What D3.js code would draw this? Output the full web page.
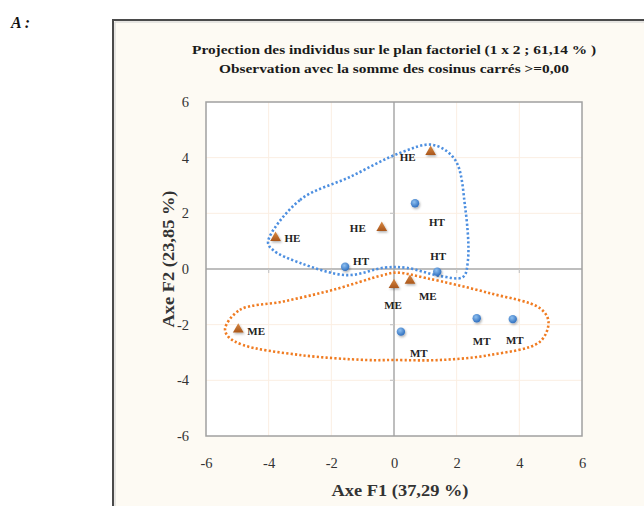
<!DOCTYPE html>
<html>
<head>
<meta charset="utf-8">
<script src="https://cdn.jsdelivr.net/npm/d3@7"></script>
<style>
  html, body { margin: 0; padding: 0; background: #ffffff; }
  svg { display: block; }
</style>
</head>
<body>
<svg id="chart" width="644" height="506"></svg>
<script>
// Individuals projected on the factorial plane F1 x F2
const triLabels = ["HE", "HE", "HE", "ME", "ME", "ME"];
const triF1 = [1.17, -0.39, -3.78, 0.00, 0.51, -4.97];
const triF2 = [4.21, 1.48, 1.12, -0.57, -0.42, -2.17];

const dotLabels = ["HT", "HT", "HT", "MT", "MT", "MT"];
const dotF1 = [0.67, -1.56, 1.38, 0.22, 2.64, 3.79];
const dotF2 = [2.36, 0.08, -0.10, -2.25, -1.77, -1.80];

// Group outlines (F1, F2) drawn as closed smooth curves
const groupHF1 = [-4.02, -3.0, -1.40, 0.19, 1.24, 1.95, 2.27, 2.36, 2.20, 1.47, 0.41, -0.30, -1.50, -3.00, -3.86];
const groupHF2 = [0.97, 2.48, 3.31, 4.17, 4.46, 3.92, 2.23, 0.32, -0.29, -0.25, 0.04, 0.05, -0.22, 0.22, 0.68];
const groupMF1 = [-5.39, -4.92, -3.54, -1.95, -0.35, 0.09, 1.04, 3.06, 4.66, 4.93, 4.66, 3.06, 1.47, 0.00, -0.87, -3.00, -4.82, -5.29];
const groupMF2 = [-2.13, -1.47, -1.17, -0.75, -0.22, -0.13, -0.33, -0.87, -1.41, -1.89, -2.61, -3.09, -3.27, -3.27, -3.27, -3.09, -2.73, -2.43];

const ticks = [-6, -4, -2, 0, 2, 4, 6];

const titleLines = [
  "Projection des individus sur le plan factoriel (1 x 2 ; 61,14 % )",
  "Observation avec la somme des cosinus carrés >=0,00"
];
const xTitle = "Axe F1 (37,29 %)";
const yTitle = "Axe F2 (23,85 %)";

// Label placement relative to each marker (pixels)
const triLabelOffset = [[-15, 9], [-16, 4], [9, 4], [-1, 24], [9, 19], [9, 6]];
const dotLabelOffset = [[14, 23], [8, -2], [1, -12], [9, 25], [5, 27], [2, 25]];

const svg = d3.select("#chart");
const W = 644, H = 506;
const plot = { left: 206, right: 582, top: 102, bottom: 436 };

const x = d3.scaleLinear().domain([-6, 6]).range([plot.left, plot.right]);
const y = d3.scaleLinear().domain([-6, 6]).range([plot.bottom, plot.top]);

const serif = "'Liberation Serif', 'Times New Roman', serif";

// Panel letter
svg.append("text").attr("x", 11).attr("y", 28)
  .attr("font-family", serif).attr("font-size", 16)
  .attr("font-weight", "bold").attr("font-style", "italic")
  .attr("fill", "#111").text("A :");

// Chart area background with frame on top and left
const defs = svg.append("defs");
const shadow = defs.append("filter").attr("id", "shadow")
  .attr("x", "-50%").attr("y", "-50%").attr("width", "200%").attr("height", "200%");
shadow.append("feDropShadow").attr("dx", 1).attr("dy", 1.5)
  .attr("stdDeviation", 1).attr("flood-color", "#000").attr("flood-opacity", 0.3);

const blueGrad = defs.append("radialGradient").attr("id", "blueGrad")
  .attr("cx", "40%").attr("cy", "35%").attr("r", "65%");
blueGrad.append("stop").attr("offset", "0%").attr("stop-color", "#8fc0f0");
blueGrad.append("stop").attr("offset", "100%").attr("stop-color", "#2f6fbf");

const triGrad = defs.append("linearGradient").attr("id", "triGrad")
  .attr("x1", 0).attr("y1", 0).attr("x2", 0).attr("y2", 1);
triGrad.append("stop").attr("offset", "0%").attr("stop-color", "#d98a45");
triGrad.append("stop").attr("offset", "100%").attr("stop-color", "#a9561a");

svg.append("rect").attr("x", 113).attr("y", 20)
  .attr("width", W - 113).attr("height", H - 20)
  .attr("fill", "#fdfaf3");
svg.append("path")
  .attr("d", `M113,${H} L113,20 L${W},20`)
  .attr("fill", "none").attr("stroke", "#4a4a4a").attr("stroke-width", 2);
svg.append("path")
  .attr("d", `M115,${H} L115,22 L${W},22`)
  .attr("fill", "none").attr("stroke", "#cfcfcf").attr("stroke-width", 1);

// Titles
const titleWidths = [404, 350];
titleLines.forEach((t, i) => {
  svg.append("text").attr("x", 394).attr("y", 54 + i * 18.5)
    .attr("text-anchor", "middle")
    .attr("font-family", serif).attr("font-size", 13.5).attr("font-weight", "bold")
    .attr("textLength", titleWidths[i]).attr("lengthAdjust", "spacingAndGlyphs")
    .attr("fill", "#1a1a1a").text(t);
});

// Plot area
svg.append("rect").attr("x", plot.left).attr("y", plot.top)
  .attr("width", plot.right - plot.left).attr("height", plot.bottom - plot.top)
  .attr("fill", "#ffffff");

// Grid
const grid = svg.append("g");
ticks.filter(t => t !== 0 && Math.abs(t) !== 6).forEach(t => {
  grid.append("line").attr("x1", x(t)).attr("x2", x(t))
    .attr("y1", plot.top).attr("y2", plot.bottom)
    .attr("stroke", "#fbeee2").attr("stroke-width", 1);
  grid.append("line").attr("y1", y(t)).attr("y2", y(t))
    .attr("x1", plot.left).attr("x2", plot.right)
    .attr("stroke", "#fbeee2").attr("stroke-width", 1);
});

// Zero axes with small ticks
svg.append("line").attr("x1", x(0)).attr("x2", x(0))
  .attr("y1", plot.top).attr("y2", plot.bottom)
  .attr("stroke", "#a8a8a8").attr("stroke-width", 1.5);
svg.append("line").attr("y1", y(0)).attr("y2", y(0))
  .attr("x1", plot.left).attr("x2", plot.right)
  .attr("stroke", "#a8a8a8").attr("stroke-width", 1.5);
ticks.filter(t => t !== 0 && Math.abs(t) !== 6).forEach(t => {
  svg.append("line").attr("x1", x(t)).attr("x2", x(t))
    .attr("y1", y(0)).attr("y2", y(0) + 4)
    .attr("stroke", "#c8c8c8").attr("stroke-width", 1.2);
  svg.append("line").attr("y1", y(t)).attr("y2", y(t))
    .attr("x1", x(0) - 4).attr("x2", x(0))
    .attr("stroke", "#c8c8c8").attr("stroke-width", 1.2);
});

// Plot frame
svg.append("rect").attr("x", plot.left).attr("y", plot.top)
  .attr("width", plot.right - plot.left).attr("height", plot.bottom - plot.top)
  .attr("fill", "none").attr("stroke", "#a0a0a0").attr("stroke-width", 1.5);

// Axes tick labels (plain hyphen for negatives)
const fmt = d => String(d);
const xAxis = d3.axisBottom(x).tickValues(ticks).tickFormat(fmt).tickSize(0).tickPadding(0);
const gx = svg.append("g").attr("transform", `translate(0,${plot.bottom + 32})`).call(xAxis);
gx.select(".domain").remove();
gx.selectAll("text").attr("font-family", serif).attr("font-size", 14.5)
  .attr("fill", "#333").attr("dy", 0);

const yAxis = d3.axisLeft(y).tickValues(ticks).tickFormat(fmt).tickSize(0).tickPadding(0);
const gy = svg.append("g").attr("transform", `translate(${plot.left - 17},0)`).call(yAxis);
gy.select(".domain").remove();
gy.selectAll("text").attr("font-family", serif).attr("font-size", 14.5)
  .attr("fill", "#333").attr("dy", "0.32em");

// Axis titles
svg.append("text").attr("x", 400).attr("y", 496).attr("text-anchor", "middle")
  .attr("font-family", serif).attr("font-size", 17.5).attr("font-weight", "bold")
  .attr("textLength", 137).attr("lengthAdjust", "spacingAndGlyphs")
  .attr("fill", "#333").text(xTitle);
svg.append("text")
  .attr("transform", `translate(174,259) rotate(-90)`)
  .attr("text-anchor", "middle")
  .attr("font-family", serif).attr("font-size", 17.5).attr("font-weight", "bold")
  .attr("textLength", 137).attr("lengthAdjust", "spacingAndGlyphs")
  .attr("fill", "#333").text(yTitle);

// Group outlines
const outline = d3.line().x(d => x(d[0])).y(d => y(d[1])).curve(d3.curveCatmullRomClosed.alpha(0.5));
const groupH = groupHF1.map((v, i) => [v, groupHF2[i]]);
const groupM = groupMF1.map((v, i) => [v, groupMF2[i]]);
svg.append("path").attr("d", outline(groupM))
  .attr("fill", "none").attr("stroke", "#f07c22").attr("stroke-width", 2.6)
  .attr("stroke-dasharray", "2.2,2.2");
svg.append("path").attr("d", outline(groupH))
  .attr("fill", "none").attr("stroke", "#4d8fe0").attr("stroke-width", 2.6)
  .attr("stroke-dasharray", "2.2,2.2");

// Markers
const tri = d3.symbol().type(d3.symbolTriangle).size(50);
const triData = triF1.map((v, i) => ({ f1: v, f2: triF2[i], label: triLabels[i], off: triLabelOffset[i] }));
const dotData = dotF1.map((v, i) => ({ f1: v, f2: dotF2[i], label: dotLabels[i], off: dotLabelOffset[i] }));

svg.append("g").selectAll("path").data(triData).join("path")
  .attr("d", tri)
  .attr("transform", d => `translate(${x(d.f1)},${y(d.f2)})`)
  .attr("fill", "url(#triGrad)").attr("filter", "url(#shadow)");

svg.append("g").selectAll("circle").data(dotData).join("circle")
  .attr("cx", d => x(d.f1)).attr("cy", d => y(d.f2)).attr("r", 4.2)
  .attr("fill", "url(#blueGrad)").attr("filter", "url(#shadow)");

// Point labels
const labels = svg.append("g");
[...triData, ...dotData].forEach(d => {
  const dx = d.off[0];
  const anchor = Math.abs(dx) < 6 ? "middle" : (dx < 0 ? "end" : "start");
  labels.append("text")
    .attr("x", x(d.f1) + dx).attr("y", y(d.f2) + d.off[1])
    .attr("text-anchor", anchor)
    .attr("font-family", serif).attr("font-size", 11).attr("font-weight", "bold")
    .attr("fill", "#222").text(d.label);
});
</script>
</body>
</html>
